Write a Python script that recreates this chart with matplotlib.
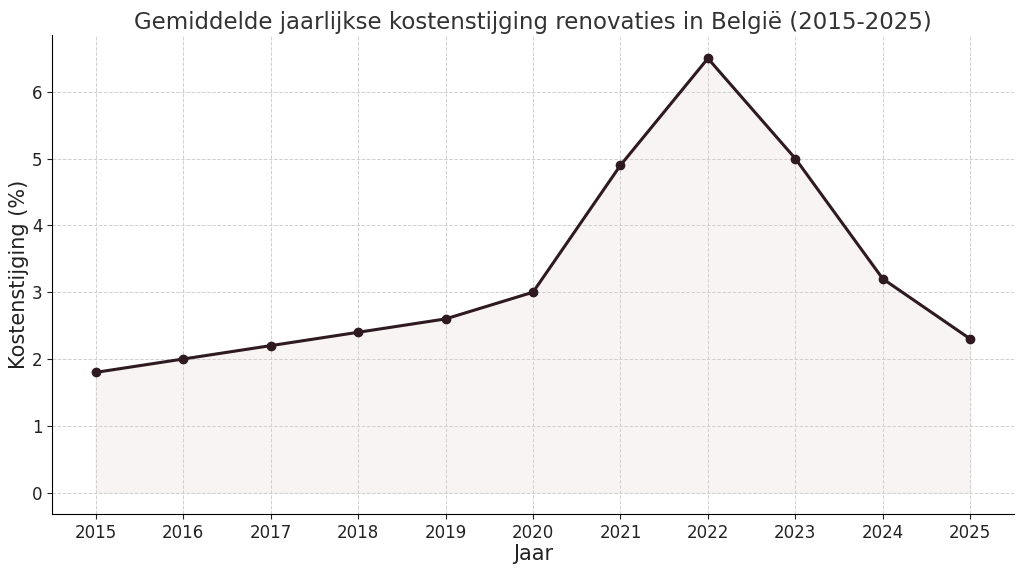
import matplotlib
matplotlib.use("Agg")
import matplotlib.pyplot as plt

years = [2015, 2016, 2017, 2018, 2019, 2020, 2021, 2022, 2023, 2024, 2025]
values = [1.8, 2.0, 2.2, 2.4, 2.6, 3.0, 4.9, 6.5, 5.0, 3.2, 2.3]

fig = plt.figure(figsize=(10.24, 5.72), dpi=100)
ax = fig.add_axes([52/1024, 1-514/572, (1014-52)/1024, (514-35)/572])
color = "#2e1a20"
ax.fill_between(years, values, 0, color="#f4eded", alpha=0.6, zorder=1)
ax.plot(years, values, color=color, lw=2.2, marker="o", ms=6, zorder=3)
ax.set_xlim(2014.5, 2025.5)
ax.set_ylim(-0.32, 6.85)
ax.set_xticks(years)
ax.set_yticks(range(0, 7))
ax.grid(True, linestyle="--", color="#d0d0d0", lw=0.7)
for s in ["top", "right"]:
    ax.spines[s].set_visible(False)
ax.tick_params(labelsize=12, colors="#222222")
ax.set_xlabel("Jaar", fontsize=15, color="#222222", labelpad=2)
ax.set_ylabel("Kostenstijging (%)", fontsize=15, color="#222222", labelpad=2)
ax.set_title("Gemiddelde jaarlijkse kostenstijging renovaties in België (2015-2025)",
             fontsize=16.5, color="#333333", pad=4)
fig.savefig("out.png", dpi=100)
